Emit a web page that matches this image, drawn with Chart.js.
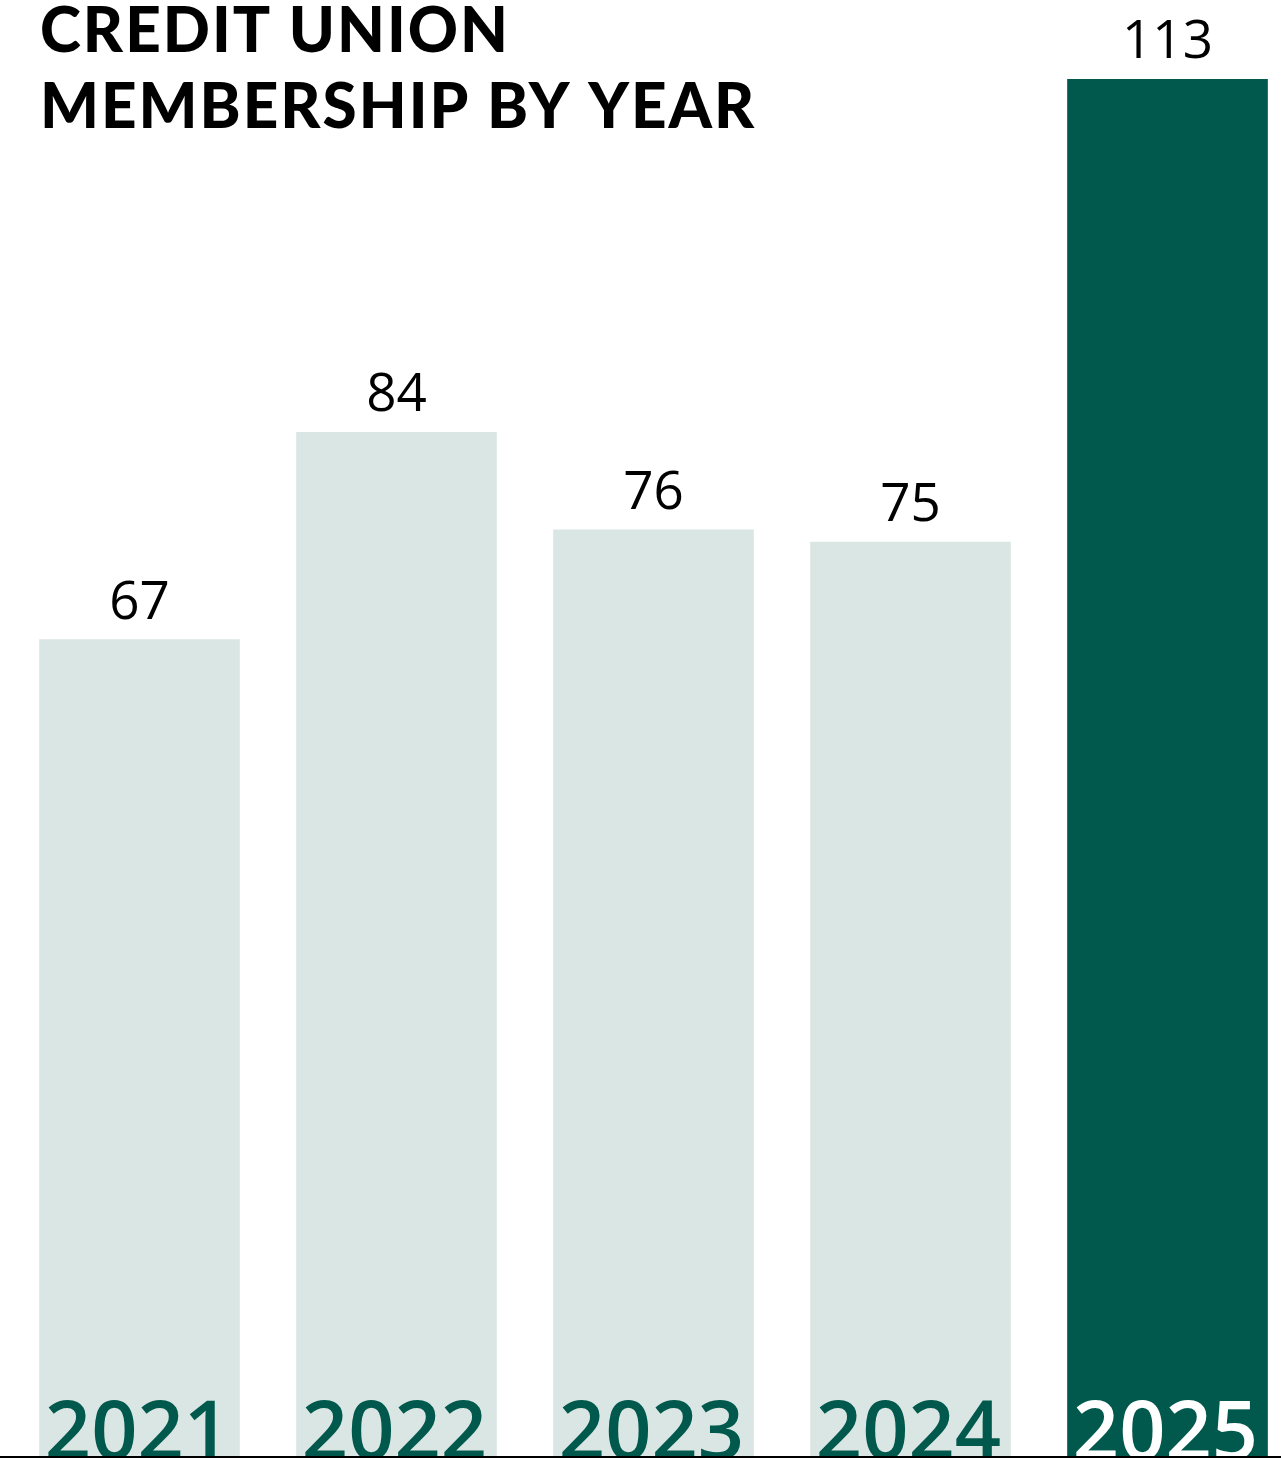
<!DOCTYPE html>
<html>
<head>
<meta charset="utf-8">
<title>Credit Union Membership by Year</title>
<script src="https://cdn.jsdelivr.net/npm/chart.js@4.4.1/dist/chart.umd.min.js"></script>
<style>
  html, body { margin: 0; padding: 0; background: #ffffff; overflow: hidden; }
  #wrap { position: relative; width: 1281px; height: 1458px; overflow: hidden; }
  #chart { position: absolute; left: 0; top: 0; }
</style>
</head>
<body>
<div id="wrap"><canvas id="chart" width="1296" height="1458"></canvas></div>
<script>
// Membership counts per year
const years = ['2021', '2022', '2023', '2024', '2025'];
const members = [67, 84, 76, 75, 113];
const titleLines = ['CREDIT UNION', 'MEMBERSHIP BY YEAR'];

const DARK = '#00594c';
const LIGHT = '#dae6e3';
const highlightIndex = years.length - 1;

const barColors = years.map((y, i) => i === highlightIndex ? DARK : LIGHT);
const yearColors = years.map((y, i) => i === highlightIndex ? '#ffffff' : DARK);

const labelsPlugin = {
  id: 'labelsPlugin',
  afterDatasetsDraw(chart) {
    const ctx = chart.ctx;
    const area = chart.chartArea;
    const meta = chart.getDatasetMeta(0);
    const yScale = chart.scales.y;

    // value labels above each bar
    ctx.save();
    ctx.fillStyle = '#000000';
    ctx.font = '400 53px "Open Sans", sans-serif';
    ctx.textAlign = 'center';
    ctx.textBaseline = 'alphabetic';
    meta.data.forEach((bar, i) => {
      const top = yScale.getPixelForValue(members[i]);
      ctx.fillText(String(members[i]), bar.x, top - 21);
    });
    ctx.restore();

    // year labels sitting inside the bars, cut off by the baseline
    ctx.save();
    ctx.beginPath();
    ctx.rect(0, area.top, chart.width, area.bottom - area.top);
    ctx.clip();
    ctx.font = '600 81px "Open Sans", sans-serif';
    ctx.textAlign = 'center';
    ctx.textBaseline = 'alphabetic';
    meta.data.forEach((bar, i) => {
      ctx.fillStyle = yearColors[i];
      ctx.fillText(years[i], bar.x - 2, area.bottom + 3);
    });
    ctx.restore();
  },
  afterDraw(chart) {
    const ctx = chart.ctx;
    const area = chart.chartArea;
    // baseline rule
    ctx.save();
    ctx.fillStyle = '#000000';
    ctx.fillRect(0, area.bottom, chart.width, 2);
    ctx.restore();

    // heading
    ctx.save();
    ctx.fillStyle = '#000000';
    ctx.font = '900 62px Lato, sans-serif';
    ctx.letterSpacing = '2px';
    ctx.textAlign = 'left';
    ctx.textBaseline = 'alphabetic';
    titleLines.forEach((line, i) => {
      ctx.fillText(line, 40, 52 + i * 76);
    });
    ctx.restore();
  }
};

new Chart(document.getElementById('chart'), {
  type: 'bar',
  data: {
    labels: years,
    datasets: [{
      data: members,
      backgroundColor: barColors,
      borderWidth: 0,
      barThickness: 200
    }]
  },
  options: {
    responsive: false,
    devicePixelRatio: 1,
    animation: false,
    layout: { padding: { left: 11, right: 0, top: 79, bottom: 2 } },
    plugins: {
      legend: { display: false },
      tooltip: { enabled: false },
      title: { display: false }
    },
    scales: {
      x: { display: false, offset: true, grid: { display: false } },
      y: { display: false, min: 0, max: 113, grid: { display: false } }
    }
  },
  plugins: [labelsPlugin]
});
</script>
</body>
</html>
